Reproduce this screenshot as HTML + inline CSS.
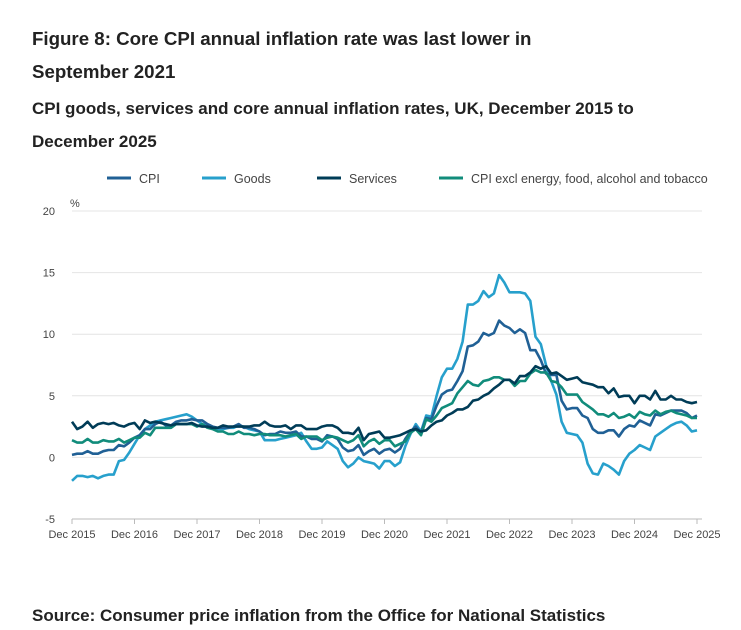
<!DOCTYPE html>
<html><head><meta charset="utf-8"><style>
body{margin:0;background:#fff;font-family:"Liberation Sans",sans-serif;color:#222}
.t{position:absolute;left:32px;font-weight:bold}
</style></head><body>
<div style="position:relative;width:741px;height:630px;overflow:hidden">
<div class="t" style="top:22px;font-size:18.7px;line-height:33px;width:560px">Figure 8: Core CPI annual inflation rate was last lower in September 2021</div>
<div class="t" style="top:92px;font-size:17px;line-height:33px;width:620px">CPI goods, services and core annual inflation rates, UK, December 2015 to December 2025</div>
<svg id="c" width="741" height="630" style="position:absolute;left:0;top:0"></svg>
<div class="t" style="top:606px;font-size:17px">Source: Consumer price inflation from the Office for National Statistics</div>
</div>
<script>
const yTicks=[20,15,10,5,0,-5];
const xLabels=["Dec 2015","Dec 2016","Dec 2017","Dec 2018","Dec 2019","Dec 2020","Dec 2021","Dec 2022","Dec 2023","Dec 2024","Dec 2025"];
const seriesNames=["CPI","Goods","Services","CPI excl energy, food, alcohol and tobacco"];
const cpi=[0.2,0.3,0.3,0.5,0.3,0.3,0.5,0.6,0.6,1.0,0.9,1.2,1.6,1.8,2.3,2.3,2.7,2.9,2.6,2.6,2.9,3.0,3.0,3.1,3.0,3.0,2.7,2.5,2.4,2.4,2.4,2.5,2.7,2.4,2.4,2.3,2.1,1.8,1.9,1.9,2.1,2.0,2.0,2.1,1.7,1.7,1.5,1.5,1.3,1.8,1.7,1.5,0.8,0.5,0.6,1.0,0.2,0.5,0.7,0.3,0.6,0.7,0.4,0.7,1.5,2.1,2.5,2.0,3.2,3.1,4.2,5.1,5.4,5.5,6.2,7.0,9.0,9.1,9.4,10.1,9.9,10.1,11.1,10.7,10.5,10.1,10.4,10.1,8.7,8.7,7.9,6.8,6.7,6.7,4.6,3.9,4.0,4.0,3.4,3.2,2.3,2.0,2.0,2.2,2.2,1.7,2.3,2.6,2.5,3.0,2.8,2.6,3.5,3.4,3.6,3.8,3.8,3.8,3.6,3.2,3.4];
const goods=[-1.9,-1.5,-1.5,-1.6,-1.5,-1.7,-1.5,-1.4,-1.4,-0.3,-0.2,0.4,1.1,1.8,2.3,2.6,2.9,3.0,3.1,3.2,3.3,3.4,3.5,3.3,3.0,2.7,2.6,2.4,2.3,2.3,2.4,2.4,2.6,2.5,2.3,2.2,2.1,1.4,1.4,1.4,1.5,1.6,1.7,1.8,2.0,1.3,0.7,0.7,0.8,1.3,1.0,0.7,-0.3,-0.8,-0.5,0.0,-0.3,-0.4,-0.5,-0.9,-0.3,-0.3,-0.7,-0.4,0.9,1.9,2.7,2.1,3.4,3.3,5.0,6.5,7.2,7.2,8.0,9.4,12.4,12.4,12.7,13.5,13.0,13.3,14.8,14.2,13.4,13.4,13.4,13.3,12.7,9.8,9.2,7.5,6.2,5.1,2.9,2.0,1.9,1.8,1.2,-0.5,-1.3,-1.4,-0.5,-0.7,-1.0,-1.4,-0.3,0.3,0.6,1.0,0.8,0.6,1.7,2.0,2.3,2.6,2.8,2.9,2.6,2.1,2.2];
const services=[2.9,2.3,2.5,2.9,2.4,2.7,2.8,2.7,2.8,2.6,2.5,2.7,2.8,2.3,3.0,2.8,2.9,2.8,2.7,2.6,2.7,2.7,2.7,2.8,2.6,2.5,2.5,2.4,2.4,2.6,2.5,2.5,2.5,2.5,2.5,2.6,2.6,2.9,2.6,2.5,2.5,2.6,2.3,2.6,2.6,2.3,2.3,2.3,2.5,2.6,2.6,2.4,2.0,2.0,1.9,2.4,1.4,1.9,2.0,2.1,1.6,1.6,1.7,1.8,2.0,2.2,2.3,2.1,2.2,2.6,2.9,3.0,3.4,3.6,3.9,3.9,4.1,4.6,4.7,5.0,5.2,5.6,5.9,6.3,6.3,6.0,6.6,6.6,6.9,7.4,7.2,7.4,6.8,6.9,6.6,6.3,6.4,6.5,6.1,6.0,5.9,5.7,5.7,5.2,5.6,4.9,5.0,5.0,4.4,5.0,5.0,4.7,5.4,4.7,4.7,5.0,4.7,4.7,4.5,4.4,4.5];
const core=[1.4,1.2,1.2,1.5,1.2,1.2,1.4,1.3,1.3,1.5,1.2,1.4,1.6,1.6,2.0,1.8,2.4,2.4,2.4,2.4,2.7,2.7,2.7,2.7,2.5,2.7,2.4,2.3,2.1,2.1,1.9,1.9,2.1,1.9,1.9,1.8,1.9,1.9,1.8,1.8,1.8,1.7,1.8,1.9,1.5,1.7,1.7,1.7,1.4,1.6,1.7,1.6,1.4,1.2,1.4,1.8,0.9,1.3,1.5,1.1,1.4,1.4,0.9,1.1,1.3,2.0,2.3,1.8,3.1,2.9,3.4,4.0,4.2,4.4,5.2,5.7,6.2,5.9,5.8,6.2,6.3,6.5,6.5,6.3,6.3,5.8,6.2,6.2,6.8,7.1,6.9,6.9,6.2,6.1,5.7,5.1,5.1,5.1,4.5,4.2,3.9,3.5,3.5,3.3,3.6,3.2,3.3,3.5,3.2,3.7,3.5,3.4,3.8,3.5,3.7,3.8,3.6,3.5,3.4,3.2,3.2];
const svg=document.getElementById('c'),NS='http://www.w3.org/2000/svg';
const X0=72,X1=697,Y0=211,Y1=519;
const xs=i=>X0+(X1-X0)*i/120;
const ys=v=>Y0+(20-v)*(Y1-Y0)/25;
function mk(t,a,p){const e=document.createElementNS(NS,t);for(const k in a)e.setAttribute(k,a[k]);(p||svg).appendChild(e);return e;}
yTicks.forEach(v=>{
 const g=mk('line',{x1:X0,x2:X1+5,y1:ys(v),y2:ys(v),stroke:v===-5?'#bbb':'#e4e4e4','stroke-width':1});
 
 
 const t=mk('text',{x:55,y:ys(v)+4,'text-anchor':'end','font-size':11,fill:'#444','font-family':'Liberation Sans, sans-serif'});t.textContent=v;
 
 
});
const pc=mk('text',{x:70,y:207,'font-size':11,fill:'#444','font-family':'Liberation Sans, sans-serif'});pc.textContent='%';


xLabels.forEach((l,i)=>{
 const x=xs(i*12);
 const tk=mk('line',{x1:x,x2:x,y1:Y1,y2:Y1+5,stroke:'#bbb'});
 
 
 const t=mk('text',{x:x,y:538,'text-anchor':'middle','font-size':11,fill:'#444','font-family':'Liberation Sans, sans-serif'});t.textContent=l;
 
 
});
const data=[cpi,goods,services,core],cols=['#206095','#27a0cc','#003c57','#118c7b'],names=['cpi-line','goods-line','services-line','core-line'];
[1,0,3,2].forEach(k=>{
 const p=mk('path',{d:data[k].map((v,i)=>(i?'L':'M')+xs(i).toFixed(1)+' '+ys(v).toFixed(1)).join(''),fill:'none',stroke:cols[k],'stroke-width':2.6,'stroke-linejoin':'round'});
 
 
});
const lx=[137,232,347,469];
seriesNames.forEach((n,k)=>{
 const l=mk('line',{x1:lx[k]-30,x2:lx[k]-6,y1:178,y2:178,stroke:cols[k],'stroke-width':3});
 
 
 const t=mk('text',{x:lx[k]+2,y:183,'font-size':12.5,fill:'#444','font-family':'Liberation Sans, sans-serif'});t.textContent=n;
 
 
});
</script>
</body></html>
